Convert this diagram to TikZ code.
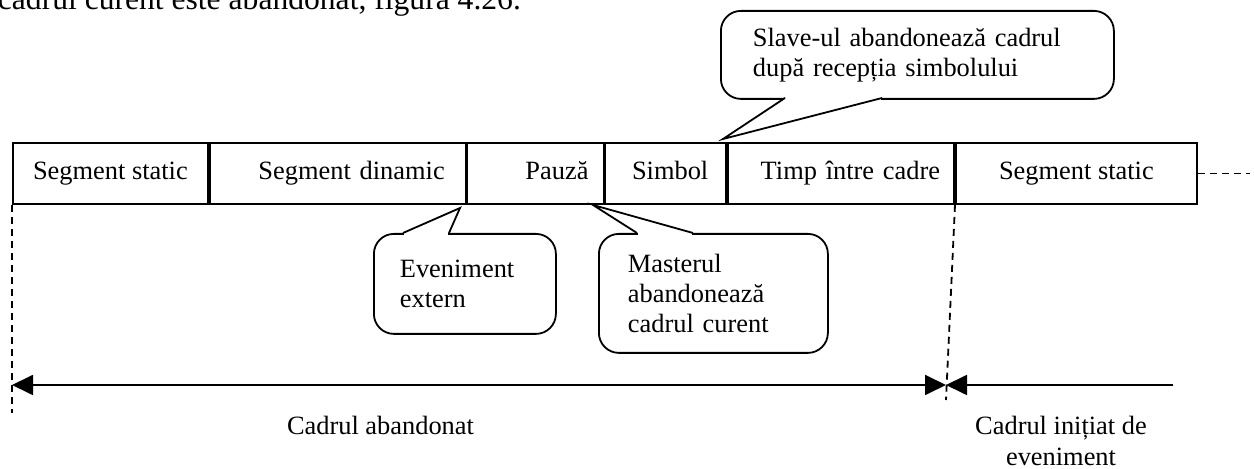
\documentclass[tikz,border=0pt]{standalone}
\usepackage{fontspec}
\setmainfont{Liberation Serif}
\usetikzlibrary{arrows.meta,positioning}

\begin{document}
\begin{tikzpicture}[x=0.5pt,y=-0.5pt,line width=0.9pt,
  font=\fontsize{13.2}{15.2}\selectfont,
  >={Triangle[length=10.5pt,width=10pt]}]
\tikzstyle{cell}=[draw,minimum height=30.5pt,inner ysep=0pt,text height=9.5pt,text depth=3pt,anchor=west]
\tikzstyle{bubble}=[draw,rounded corners=10pt,anchor=north west,align=left,inner ysep=0pt]
\tikzstyle{guide}=[dash pattern=on 3.5pt off 2.5pt]
\useasboundingbox (0,0) rectangle (1254,469);

% line of the page above, cut off
\node[anchor=base west,inner sep=0pt,font=\fontsize{15.8}{18}\selectfont] (body) at (-3,10) {cadrul curent este abandonat, figura 4.26.};

% the frame
\node[cell,minimum width=97.5pt] (st1) at (12,173.5) {Segment static};
\node[cell,text width=107pt,inner xsep=10.5pt,align=right,right=0pt of st1] (din) {Segment dinamic};
\node[cell,text width=53pt,inner xsep=7.5pt,align=right,right=0pt of din] (pau) {Pauză};
\node[cell,text width=42.5pt,inner xsep=9pt,align=right,right=0pt of pau] (sim) {Simbol};
\node[cell,text width=99pt,inner xsep=7pt,align=right,right=0pt of sim] (tic) {Timp între cadre};
\node[cell,minimum width=120.5pt,right=0pt of tic] (st2) {Segment static};

\coordinate (endL) at (12,413);
\coordinate (endM) at (946,400);
\coordinate (endR) at (1250,173.5);
\draw[guide] (st1.south west) -- (endL);
\draw[guide] (st2.south west) -- (endM);
\draw[guide] (st2.east) -- (endR);

% lengths
\coordinate (aL) at (12,385);
\coordinate (aM) at (946,385);
\coordinate (aR) at (1173,385);
\draw[<->] (aL) -- (aM);
\draw[->] (aR) -- (aM);
\node[anchor=base] (lab1) at (380.5,435) {Cadrul abandonat};
\node[align=center] (lab2) at (1061,441) {Cadrul inițiat de\\eveniment};

% callouts
\node[bubble,text width=164.5pt,inner xsep=16pt,minimum height=44pt] (slave) at (720,10) {Slave-ul abandonează cadrul\\după recepția simbolului};
\node[bubble,text width=65pt,inner xsep=13pt,minimum height=50pt] (event) at (373,233) {Eveniment\\extern};
\node[bubble,text width=85.5pt,inner xsep=14.5pt,minimum height=59.5pt] (master) at (598,233) {Masterul\\abandonează\\cadrul curent};

\coordinate (slaveA) at (785,98);
\coordinate (slaveT) at (723,139);
\coordinate (slaveB) at (882,98);
\coordinate (eventA) at (403,233);
\coordinate (eventT) at (460,208);
\coordinate (eventB) at (449,233);
\coordinate (masterA) at (637,233);
\coordinate (masterT) at (593,205);
\coordinate (masterB) at (693,233);
\foreach \bub in {slave,event,master}{
  \fill[white] (\bub A) -- (\bub T) -- (\bub B) -- cycle;
  \draw[white,line width=1.6pt,shorten <=0.5pt,shorten >=0.5pt] (\bub A) -- (\bub B);
  \draw (\bub A) -- (\bub T) -- (\bub B);
}
\end{tikzpicture}
\end{document}
